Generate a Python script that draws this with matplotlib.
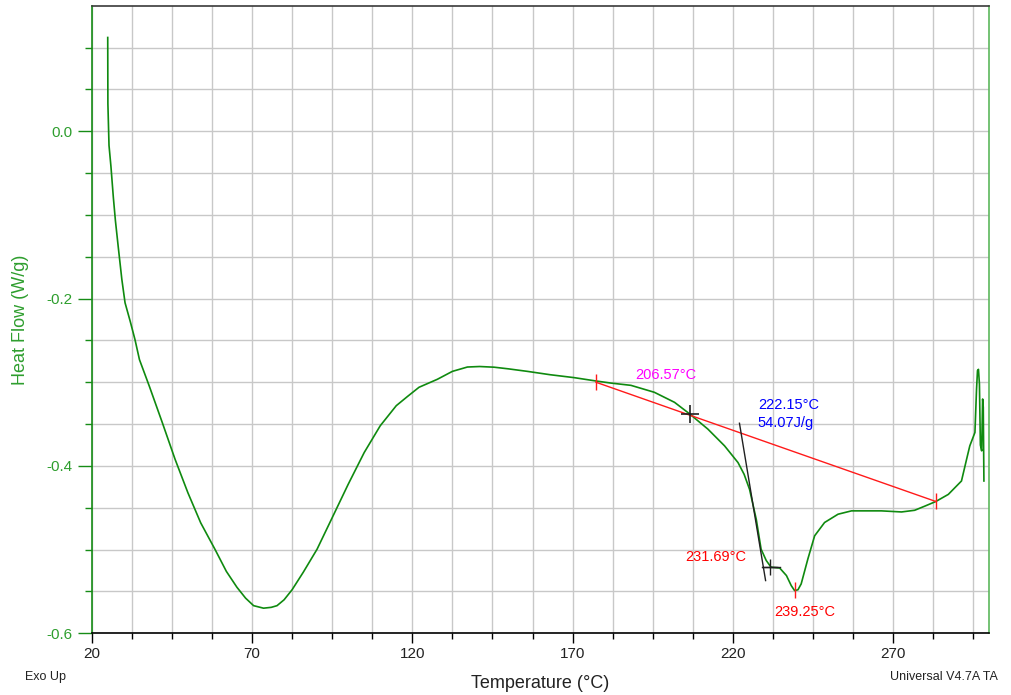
import numpy as np
import matplotlib
matplotlib.use("Agg")
import matplotlib.pyplot as plt
from matplotlib.ticker import FixedLocator

plt.rcParams['font.family'] = ['Liberation Sans', 'DejaVu Sans']

# DSC trace
temp = [25.0, 25.05, 25.4, 26.0, 26.75, 27.4, 28.3, 29.4, 30.4, 32.0, 33.5, 34.9,
        38, 42, 46, 50, 54, 58.5, 62, 65.3, 68, 70.5, 73.6, 76, 77.8, 80, 82.5,
        86, 90.3, 95, 100, 105, 110, 115, 118.5, 122.1, 127.8, 132.5, 137.2, 141,
        145.5, 150, 155.9, 163, 170.5, 177.3, 182, 188.2, 195.5, 201.8, 206.4,
        212.2, 217.4, 221.6, 223.5, 225.2, 227.3, 228.8, 230.4, 231.9, 234.6,
        236.7, 238.2, 239.25, 240.3, 241.3, 243.4, 245.5, 248.6, 252.8, 257.0,
        260.1, 266.3, 272.6, 276.7, 279.9, 283.3, 287.2, 291.3, 292.9, 293.9,
        295.5, 296.0, 296.3, 296.6, 296.9, 297.2, 297.6, 297.9, 298.1, 298.3]
heat = [0.112, 0.033, -0.017, -0.042, -0.079, -0.107, -0.139, -0.177, -0.205, -0.227, -0.249, -0.273,
        -0.305, -0.348, -0.392, -0.432, -0.468, -0.500, -0.526, -0.545, -0.558, -0.567, -0.570, -0.569, -0.567, -0.560, -0.548,
        -0.527, -0.4995, -0.462, -0.422, -0.384, -0.352, -0.328, -0.317, -0.306, -0.2965, -0.287, -0.2818, -0.2812,
        -0.282, -0.284, -0.287, -0.291, -0.2945, -0.2985, -0.301, -0.3037, -0.312, -0.324, -0.3375,
        -0.356, -0.376, -0.396, -0.410, -0.428, -0.464, -0.4995, -0.513, -0.521, -0.522,
        -0.531, -0.543, -0.549, -0.548, -0.541, -0.511, -0.4835, -0.4676, -0.4577, -0.4537,
        -0.4537, -0.4537, -0.455, -0.453, -0.448, -0.4425, -0.434, -0.418, -0.392, -0.376,
        -0.360, -0.308, -0.286, -0.2846, -0.302, -0.375, -0.382, -0.320, -0.330, -0.418]

# integration baseline end points
base_t = [177.3, 283.3]
base_h = [-0.300, -0.4425]
# onset tangent
tan_t = [222.05, 230.2]
tan_h = [-0.349, -0.537]
shelf_t = [229.2, 234.6]
shelf_h = [-0.521, -0.521]
onset = (206.57, -0.3375)
shelf_pt = (231.69, -0.521)
peak = (239.5, -0.548)

x_major = [20, 70, 120, 170, 220, 270]
y_major = [-0.6, -0.4, -0.2, 0.0]
y_labels = ['-0.6', '-0.4', '-0.2', '0.0']

green = '#0f8a0f'
fig = plt.figure(figsize=(10.11, 6.95), dpi=100)
ax = fig.add_axes([0.0907, 0.0888, 0.8879, 0.903])

ax.plot(temp, heat, color=green, lw=1.2, zorder=3)
ax.plot(base_t, base_h, color='#ff1a1a', lw=1.0, zorder=4)
ax.plot(base_t, base_h, ls='none', marker='|', ms=12, mew=1.0, color='#ff1a1a', zorder=4)
ax.plot(tan_t, tan_h, color='#202020', lw=1.0, zorder=5)
ax.plot(shelf_t, shelf_h, color='#202020', lw=1.0, zorder=5)
ax.plot(*onset, marker='+', ms=13, mew=1.2, color='#202020', zorder=6)
ax.plot(*shelf_pt, marker='+', ms=12, mew=1.0, color='#202020', zorder=6)
ax.plot(*peak, marker='|', ms=12, mew=1.0, color='#ff1a1a', zorder=6)

fs = 10.5
ax.text(189.6, -0.2917, '206.57°C', color='#ff00ff', fontsize=fs, ha='left', va='center')
ax.text(227.8, -0.3275, '222.15°C', color='#0000ff', fontsize=fs, ha='left', va='center')
ax.text(227.8, -0.349, '54.07J/g', color='#0000ff', fontsize=fs, ha='left', va='center')
ax.text(224.2, -0.5094, '231.69°C', color='#ff0000', fontsize=fs, ha='right', va='center')
ax.text(232.9, -0.5743, '239.25°C', color='#ff0000', fontsize=fs, ha='left', va='center')

ax.set_xlim(20, 300)
ax.set_ylim(-0.6, 0.15)
ax.xaxis.set_major_locator(FixedLocator(x_major))
ax.xaxis.set_minor_locator(FixedLocator(np.arange(20, 300, 12.5)))
ax.yaxis.set_major_locator(FixedLocator(y_major))
ax.yaxis.set_minor_locator(FixedLocator(np.arange(-0.6, 0.15, 0.05)))
ax.set_yticklabels(y_labels)

ax.grid(which='both', color='#c8c8c8', lw=1.0)
ax.set_axisbelow(True)

ax.spines['left'].set_color('#168c16')
ax.spines['right'].set_color('#5cb85c')
ax.spines['top'].set_color('#3a3a3a')
ax.spines['bottom'].set_color('black')
for s in ax.spines.values():
    s.set_linewidth(1.2)

ax.tick_params(axis='x', which='major', direction='out', length=7, width=1, colors='black',
               labelsize=11, pad=3, labelcolor='#222222')
ax.tick_params(axis='x', which='minor', direction='out', length=4, width=1, color='black')
ax.tick_params(axis='y', which='major', direction='out', length=10, width=1, color='#168c16',
               labelsize=11, pad=4, labelcolor='#2e9e2e')
ax.tick_params(axis='y', which='minor', direction='out', length=5, width=1, color='#168c16')

ax.set_xlabel('Temperature (°C)', fontsize=13, color='#222222', labelpad=10)
ax.set_ylabel('Heat Flow (W/g)', fontsize=13, color='#2e9e2e', labelpad=12)

fig.text(0.0247, 0.026, 'Exo Up', fontsize=9, color='#222222', ha='left', va='center')
fig.text(0.880, 0.026, 'Universal V4.7A TA', fontsize=9, color='#222222', ha='left', va='center')

fig.savefig('out.png', dpi=100)
